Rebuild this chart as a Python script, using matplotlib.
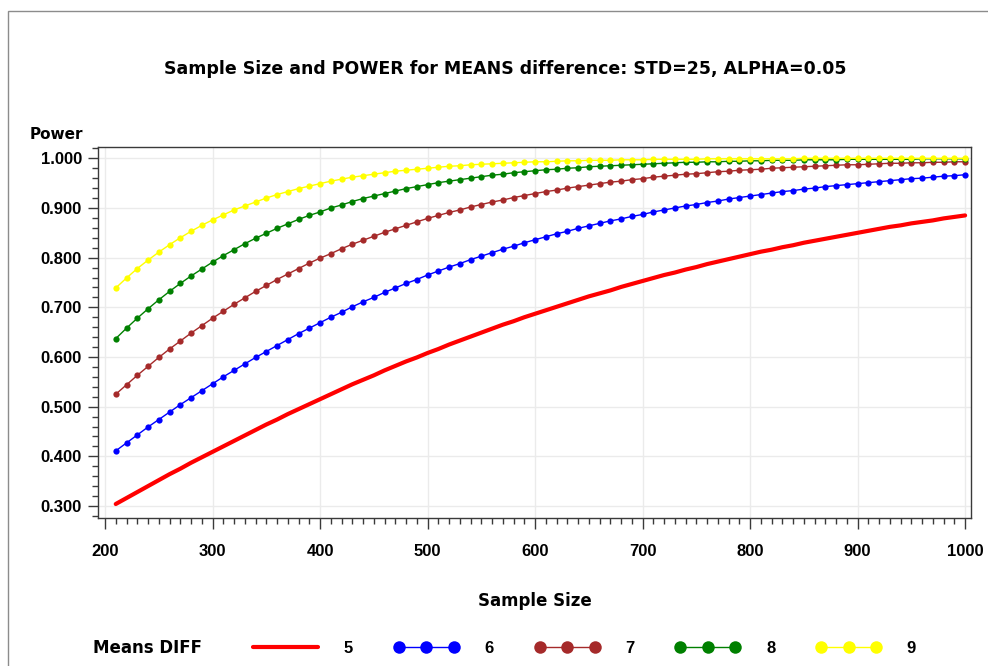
import matplotlib
matplotlib.use('Agg')
import matplotlib.pyplot as plt
from matplotlib.ticker import MultipleLocator, FormatStrFormatter
from matplotlib.legend_handler import HandlerLine2D
from matplotlib.patches import Rectangle

plt.rcParams['font.family'] = ['Liberation Sans', 'DejaVu Sans']
plt.rcParams['font.weight'] = 'bold'

# sample sizes (x) shared by all curves
sample_size = [210, 220, 230, 240, 250, 260, 270, 280, 290, 300,
               310, 320, 330, 340, 350, 360, 370, 380, 390, 400,
               410, 420, 430, 440, 450, 460, 470, 480, 490, 500,
               510, 520, 530, 540, 550, 560, 570, 580, 590, 600,
               610, 620, 630, 640, 650, 660, 670, 680, 690, 700,
               710, 720, 730, 740, 750, 760, 770, 780, 790, 800,
               810, 820, 830, 840, 850, 860, 870, 880, 890, 900,
               910, 920, 930, 940, 950, 960, 970, 980, 990, 1000]

# power, one list per means difference
power_5 = [0.304, 0.316, 0.328, 0.340, 0.352, 0.364, 0.375, 0.387, 0.398, 0.409,
           0.420, 0.431, 0.442, 0.453, 0.464, 0.474, 0.485, 0.495, 0.505, 0.515,
           0.525, 0.535, 0.545, 0.554, 0.563, 0.573, 0.582, 0.591, 0.599, 0.608,
           0.616, 0.625, 0.633, 0.641, 0.649, 0.657, 0.665, 0.672, 0.680, 0.687,
           0.694, 0.701, 0.708, 0.715, 0.722, 0.728, 0.734, 0.741, 0.747, 0.753,
           0.759, 0.765, 0.770, 0.776, 0.781, 0.787, 0.792, 0.797, 0.802, 0.807,
           0.812, 0.816, 0.821, 0.825, 0.830, 0.834, 0.838, 0.842, 0.846, 0.850,
           0.854, 0.858, 0.862, 0.865, 0.869, 0.872, 0.875, 0.879, 0.882, 0.885]
power_6 = [0.411, 0.427, 0.443, 0.459, 0.474, 0.489, 0.504, 0.518, 0.532, 0.546,
           0.560, 0.573, 0.586, 0.599, 0.611, 0.623, 0.635, 0.647, 0.658, 0.669,
           0.680, 0.690, 0.701, 0.711, 0.720, 0.730, 0.739, 0.748, 0.756, 0.765,
           0.773, 0.781, 0.788, 0.796, 0.803, 0.810, 0.817, 0.823, 0.830, 0.836,
           0.842, 0.848, 0.853, 0.859, 0.864, 0.869, 0.874, 0.878, 0.883, 0.887,
           0.892, 0.896, 0.900, 0.904, 0.907, 0.911, 0.914, 0.918, 0.921, 0.924,
           0.927, 0.930, 0.933, 0.935, 0.938, 0.940, 0.943, 0.945, 0.947, 0.949,
           0.951, 0.953, 0.955, 0.957, 0.959, 0.960, 0.962, 0.964, 0.965, 0.967]
power_7 = [0.525, 0.544, 0.563, 0.581, 0.599, 0.616, 0.632, 0.648, 0.663, 0.678,
           0.692, 0.706, 0.719, 0.732, 0.744, 0.756, 0.767, 0.778, 0.789, 0.799,
           0.808, 0.818, 0.827, 0.835, 0.843, 0.851, 0.858, 0.865, 0.872, 0.879,
           0.885, 0.891, 0.896, 0.902, 0.907, 0.912, 0.916, 0.921, 0.925, 0.929,
           0.933, 0.936, 0.940, 0.943, 0.946, 0.949, 0.952, 0.954, 0.957, 0.959,
           0.962, 0.964, 0.966, 0.968, 0.969, 0.971, 0.973, 0.974, 0.976, 0.977,
           0.978, 0.980, 0.981, 0.982, 0.983, 0.984, 0.985, 0.986, 0.987, 0.987,
           0.988, 0.989, 0.990, 0.990, 0.991, 0.991, 0.992, 0.992, 0.993, 0.993]
power_8 = [0.637, 0.658, 0.678, 0.697, 0.715, 0.732, 0.748, 0.763, 0.777, 0.791,
           0.804, 0.816, 0.828, 0.839, 0.849, 0.859, 0.868, 0.877, 0.885, 0.892,
           0.900, 0.906, 0.913, 0.919, 0.924, 0.929, 0.934, 0.939, 0.943, 0.947,
           0.951, 0.954, 0.957, 0.960, 0.963, 0.966, 0.968, 0.971, 0.973, 0.975,
           0.977, 0.978, 0.980, 0.981, 0.983, 0.984, 0.985, 0.986, 0.987, 0.988,
           0.989, 0.990, 0.991, 0.992, 0.992, 0.993, 0.993, 0.994, 0.994, 0.995,
           0.995, 0.996, 0.996, 0.996, 0.997, 0.997, 0.997, 0.997, 0.998, 0.998,
           0.998, 0.998, 0.998, 0.998, 0.998, 0.999, 0.999, 0.999, 0.999, 0.999]
power_9 = [0.739, 0.759, 0.778, 0.795, 0.811, 0.826, 0.840, 0.853, 0.865, 0.876,
           0.886, 0.896, 0.904, 0.912, 0.920, 0.927, 0.933, 0.939, 0.944, 0.949,
           0.954, 0.958, 0.962, 0.965, 0.968, 0.971, 0.974, 0.976, 0.978, 0.980,
           0.982, 0.984, 0.985, 0.987, 0.988, 0.989, 0.990, 0.991, 0.992, 0.993,
           0.993, 0.994, 0.995, 0.995, 0.996, 0.996, 0.996, 0.997, 0.997, 0.997,
           0.998, 0.998, 0.998, 0.998, 0.998, 0.999, 0.999, 0.999, 0.999, 0.999,
           0.999, 0.999, 0.999, 0.999, 1.000, 1.000, 1.000, 1.000, 1.000, 1.000,
           1.000, 1.000, 1.000, 1.000, 1.000, 1.000, 1.000, 1.000, 1.000, 1.000]

diff_labels = ['5', '6', '7', '8', '9']
colors = ['#ff0000', '#0000ff', '#a52a2a', '#008000', '#ffff00']

fig = plt.figure(figsize=(9.88, 6.66), dpi=100)
ax = fig.add_axes([0.0992, 0.2222, 0.8836, 0.5571])

# outer grey frame of the graph area
fig.patches.append(Rectangle((8 / 988, -0.1), 1.2, (666 - 11) / 666 + 0.1,
                             transform=fig.transFigure, fill=False,
                             edgecolor='#8c8c8c', lw=1))

handles = []
red, = ax.plot(sample_size, power_5, color=colors[0], lw=3, solid_capstyle='round')
handles.append(red)
for vals, c in zip([power_6, power_7, power_8, power_9], colors[1:]):
    h, = ax.plot(sample_size, vals, color=c, lw=1, marker='o', ms=4.5,
                 markeredgewidth=0)
    handles.append(h)

ax.set_xlim(193.5, 1005.5)
ax.set_ylim(0.2758, 1.0228)
ax.xaxis.set_major_locator(MultipleLocator(100))
ax.xaxis.set_minor_locator(MultipleLocator(10))
ax.yaxis.set_major_locator(MultipleLocator(0.1))
ax.yaxis.set_minor_locator(MultipleLocator(0.02))
ax.yaxis.set_major_formatter(FormatStrFormatter('%.3f'))
ax.grid(True, which='major', color='#ebebeb', lw=1)
ax.set_axisbelow(True)
for s in ax.spines.values():
    s.set_color('#3a3a3a')
    s.set_linewidth(1)
ax.tick_params(axis='x', which='major', length=8, width=1, pad=11, labelsize=12,
               color='#3a3a3a')
ax.tick_params(axis='x', which='minor', length=4.3, width=1, color='#3a3a3a')
ax.tick_params(axis='y', which='major', length=7.5, width=1, pad=4, labelsize=12,
               color='#3a3a3a')
ax.tick_params(axis='y', which='minor', length=4.3, width=1, color='#3a3a3a')

wide = ['DejaVu Sans']
fig.text(0.511, 0.8964, 'Sample Size and POWER for MEANS difference: STD=25, ALPHA=0.05',
         ha='center', va='center', fontsize=12.5, family=wide)
fig.text(0.0304, 0.798, 'Power', ha='left', va='center', fontsize=11, family=wide)
fig.text(0.5415, 0.0976, 'Sample Size', ha='center', va='center', fontsize=12,
         family=wide)
fig.text(0.094, 0.027, 'Means DIFF', ha='left', va='center', fontsize=12, family=wide)

fig.legend(handles, diff_labels, loc='center left', bbox_to_anchor=(253 / 988, 0.027),
           ncol=5, frameon=False, handlelength=3.9, handletextpad=1.55,
           columnspacing=2.44, borderpad=0, borderaxespad=0, numpoints=3,
           markerscale=2, prop={'size': 12, 'weight': 'bold'},
           handler_map={red: HandlerLine2D(numpoints=1)})

fig.savefig('out.png', dpi=100)
